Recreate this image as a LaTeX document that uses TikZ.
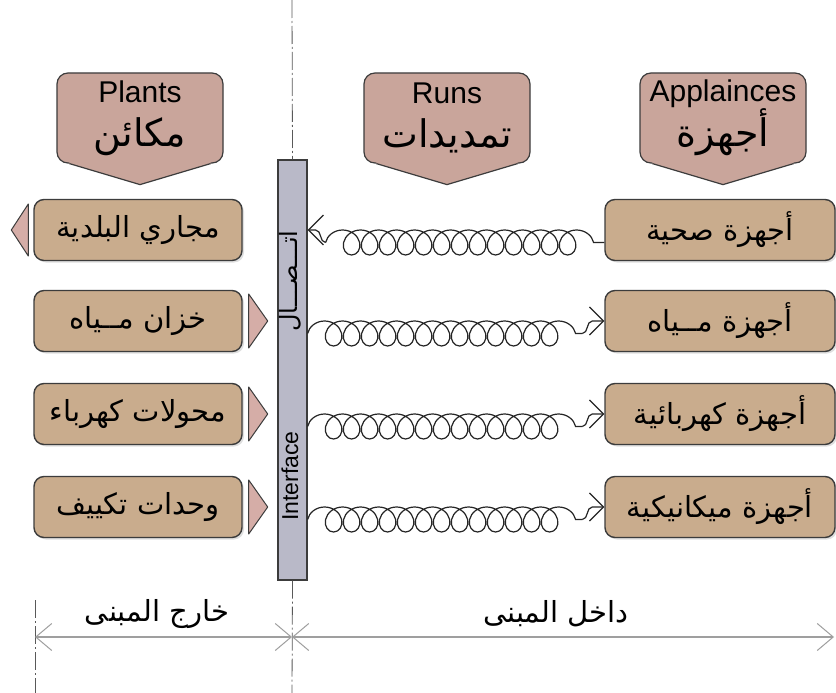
\documentclass[tikz,border=0pt]{standalone}
\usepackage{fontspec}
\setmainfont{Liberation Sans}
\newfontfamily\arabicfont[Script=Arabic]{DejaVu Sans}
\TeXXeTstate=1
\usetikzlibrary{arrows.meta,decorations.pathmorphing,shadows,calc}

\definecolor{boxtan}{HTML}{C9AC8D}
\definecolor{headpink}{HTML}{C9A59B}
\definecolor{tippink}{HTML}{D5ADA7}
\definecolor{ifacegray}{HTML}{B9B9C8}
\definecolor{edgegray}{HTML}{3C3C3C}

\newcommand{\ar}[1]{{\arabicfont\beginR #1\endR}}

\tikzset{
  unit/.style={draw=edgegray, line width=1.4pt, fill=boxtan, rounded corners=10pt,
    minimum height=61pt, inner sep=0pt, font=\fontsize{29}{32}\selectfont,
    drop shadow={opacity=0.25, shadow xshift=2pt, shadow yshift=-2pt}},
  outside/.style={unit, minimum width=208pt},
  inside/.style={unit, minimum width=230pt},
  header/.style={draw=edgegray, line width=1.2pt, fill=headpink, rounded corners=11pt,
    minimum width=166pt, minimum height=90pt, inner sep=0pt, align=center,
    font=\fontsize{30}{44}\selectfont},
  headline/.style={draw=edgegray, line width=1.2pt},
  flag/.style={draw=edgegray, line width=1pt, fill=tippink, line join=round},
  spring/.style={draw=black!85, line width=1.2pt, decorate,
    decoration={coil, amplitude=12.5pt, aspect=1.0, segment length=18pt}},
  lead/.style={draw=black!85, line width=1.2pt},
  barb/.style={arrows={-Straight Barb[length=14pt,width=28pt]}},
  axis/.style={draw=gray!70!black, line width=0.8pt, dash pattern=on 18pt off 3pt on 2pt off 3pt},
  dim/.style={draw=gray!75, line width=1.5pt,
    arrows={Straight Barb[length=16pt,width=27pt,line width=1pt]-Straight Barb[length=16pt,width=27pt,line width=1pt]}},
  zone/.style={font=\fontsize{29}{32}\selectfont},
}

\begin{document}
\begin{tikzpicture}[x=1pt,y=-1pt]

\path[use as bounding box, fill=white] (0,0) rectangle (836,693);

% headers
\node[header] (plants) at (140,118) {Plants\\{\fontsize{38}{44}\selectfont\ar{مكائن}}};
\node[header] (runs) at (447,118) {Runs\\{\fontsize{38}{44}\selectfont\ar{تمديدات}}};
\node[header] (apps) at (723,118) {Applainces\\{\fontsize{38}{44}\selectfont\ar{أجهزة}}};

\fill[headpink] ($(plants.south west)+(13,-3)$) -- ($(plants.south west)+(13,0)$) -- ($(plants.south)+(0,21)$) -- ($(plants.south east)+(-13,0)$) -- ($(plants.south east)+(-13,-3)$) -- cycle;
\draw[headline] ($(plants.south west)+(13,0)$) -- ($(plants.south)+(0,21)$) -- ($(plants.south east)+(-13,0)$);
\fill[headpink] ($(runs.south west)+(13,-3)$) -- ($(runs.south west)+(13,0)$) -- ($(runs.south)+(0,21)$) -- ($(runs.south east)+(-13,0)$) -- ($(runs.south east)+(-13,-3)$) -- cycle;
\draw[headline] ($(runs.south west)+(13,0)$) -- ($(runs.south)+(0,21)$) -- ($(runs.south east)+(-13,0)$);
\fill[headpink] ($(apps.south west)+(13,-3)$) -- ($(apps.south west)+(13,0)$) -- ($(apps.south)+(0,21)$) -- ($(apps.south east)+(-13,0)$) -- ($(apps.south east)+(-13,-3)$) -- cycle;
\draw[headline] ($(apps.south west)+(13,0)$) -- ($(apps.south)+(0,21)$) -- ($(apps.south east)+(-13,0)$);

% interface bar
\node[draw=edgegray, line width=1.2pt, fill=ifacegray, minimum width=29pt, minimum height=420pt, inner sep=0pt] (iface) at (292.5,370) {};
\node[rotate=90, font=\fontsize{23}{26}\selectfont] (ifacename) at (290,476) {Interface};
\node[rotate=90, font=\fontsize{24}{26}\selectfont] (ittisal) at (290,281) {\ar{اتـــصـــال}};

% outside units
\node[outside] (sewer) at (138,230) {\ar{مجاري البلدية}};
\node[outside] (tank) at (138,321) {\ar{خزان مــياه}};
\node[outside] (transformer) at (138,414) {\ar{محولات كهرباء}};
\node[outside] (hvac) at (138,507) {\ar{وحدات تكييف}};

\draw[flag] ($(sewer.west)+(-5,-26)$) -- ($(sewer.west)+(-22,0)$) -- ($(sewer.west)+(-5,26)$) -- cycle;
\draw[flag] ($(tank.east)+(6,-27)$) -- ($(tank.east)+(25,0)$) -- ($(tank.east)+(6,27)$) -- cycle;
\draw[flag] ($(transformer.east)+(6,-27)$) -- ($(transformer.east)+(25,0)$) -- ($(transformer.east)+(6,27)$) -- cycle;
\draw[flag] ($(hvac.east)+(6,-27)$) -- ($(hvac.east)+(25,0)$) -- ($(hvac.east)+(6,27)$) -- cycle;

% inside units
\node[inside] (sanitary) at (720,230) {\ar{أجهزة صحية}};
\node[inside] (plumbing) at (720,321) {\ar{أجهزة مــياه}};
\node[inside] (electric) at (720,414) {\ar{أجهزة كهربائية}};
\node[inside] (mechanic) at (720,507) {\ar{أجهزة ميكانيكية}};

% runs (coil hangs below the lead line)
\draw[lead, arrows={Straight Barb[length=15pt,width=30pt]-}] (iface.east |- sanitary) -- ($(iface.east |- sanitary)+(8,0)$) to[out=0,in=180] ($(iface.east |- sanitary)+(18,12.5)$);
\draw[spring] ($(iface.east |- sanitary)+(18,12.5)$) -- ($(sanitary.west)+(0,12.5)$);
\draw[spring] ($(iface.east |- plumbing)+(0,12.5)$) -- ($(plumbing.west)+(-22,12.5)$);
\draw[lead, barb] ($(plumbing.west)+(-22,12.5)$) to[out=0,in=180] ($(plumbing.west)+(-12,0)$) -- (plumbing.west);
\draw[spring] ($(iface.east |- electric)+(0,12.5)$) -- ($(electric.west)+(-22,12.5)$);
\draw[lead, barb] ($(electric.west)+(-22,12.5)$) to[out=0,in=180] ($(electric.west)+(-12,0)$) -- (electric.west);
\draw[spring] ($(iface.east |- mechanic)+(0,12.5)$) -- ($(mechanic.west)+(-22,12.5)$);
\draw[lead, barb] ($(mechanic.west)+(-22,12.5)$) to[out=0,in=180] ($(mechanic.west)+(-12,0)$) -- (mechanic.west);

% axes
\coordinate (axistop) at (292,0);
\coordinate (axisbot) at (292,693);
\coordinate (edgetop) at (35,600);
\coordinate (edgebot) at (35,693);
\draw[axis] (axistop) -- (iface.north);
\draw[axis] (iface.south) -- (axisbot);
\draw[axis] (edgetop) -- (edgebot);

% dimensions
\coordinate (dimleft) at (35,637);
\coordinate (dimmid) at (292,637);
\coordinate (dimright) at (834,637);
\draw[dim] (dimleft) -- (dimmid);
\draw[dim] (dimmid) -- (dimright);
\node[zone] (outzone) at (157,614) {\ar{خارج المبنى}};
\node[zone] (inzone) at (556,614) {\ar{داخل المبنى}};

\end{tikzpicture}
\end{document}
